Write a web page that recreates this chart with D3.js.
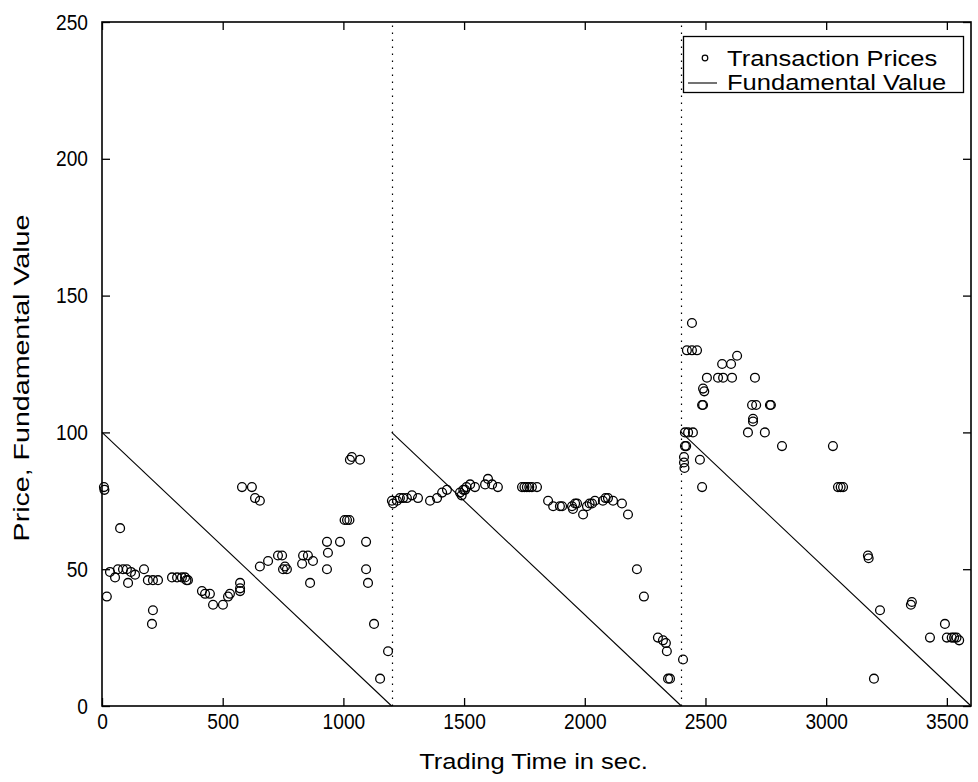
<!DOCTYPE html>
<html>
<head>
<meta charset="utf-8">
<script src="https://cdn.jsdelivr.net/npm/d3@7"></script>
<style>
  html, body { margin: 0; padding: 0; background: #ffffff; }
  svg { display: block; }
  text { font-family: "Liberation Sans", Arial, sans-serif; fill: #000; }
</style>
</head>
<body>
<svg id="chart" width="978" height="782"></svg>
<script>
// ---- data ----
const xTicks = [0, 500, 1000, 1500, 2000, 2500, 3000, 3500];
const yTicks = [0, 50, 100, 150, 200, 250];
const xLabel = "Trading Time in sec.";
const yLabel = "Price, Fundamental Value";
const legendLabels = ["Transaction Prices", "Fundamental Value"];

// period boundaries (seconds)
const periodStarts = [0, 1200, 2400];
const periodEnds = [1200, 2400, 3600];
const fvStart = 100;
const fvEnd = 0;

// transaction times (s) and prices
const tradeTimes = [
  8, 10, 20, 33, 54, 66, 75, 87, 103, 108, 120, 137, 174, 190, 207, 211, 211, 232,
  290, 311, 331, 344, 350, 356, 414, 427, 447, 460, 501, 522, 530, 572, 572, 572,
  580, 621, 634, 654, 654, 688, 729, 746, 750, 758, 766, 829, 833, 853, 862, 874,
  932, 936, 932, 986, 1005, 1015, 1025, 1027, 1035, 1069, 1094, 1094, 1102, 1127, 1152, 1185,
  1201, 1206, 1222, 1234, 1247, 1263, 1284, 1309, 1359, 1388, 1409, 1429, 1483, 1490, 1497,
  1504, 1510, 1525, 1545, 1587, 1599, 1616, 1640, 1740, 1750, 1760, 1770, 1781, 1802,
  1848, 1869, 1897, 1906, 1947, 1951, 1960, 1968, 1993, 2009, 2020, 2030, 2042, 2075,
  2086, 2096, 2117, 2154, 2179, 2216, 2245, 2303, 2324, 2336, 2340, 2345, 2353, 2407,
  2411, 2411, 2413, 2415, 2420, 2415, 2428, 2448, 2423, 2444, 2465, 2444, 2477, 2486,
  2486, 2490, 2490, 2495, 2506, 2552, 2569, 2573, 2606, 2610, 2631, 2676, 2693, 2697,
  2697, 2705, 2710, 2746, 2767, 2771, 2817, 3028, 3049, 3060, 3070, 3173, 3176, 3198,
  3223, 3351, 3355, 3430, 3492, 3500, 3520, 3530, 3540, 3551
];
const tradePrices = [
  80, 79, 40, 49, 47, 50, 65, 50, 50, 45, 49, 48, 50, 46, 30, 35, 46, 46,
  47, 47, 47, 47, 46, 46, 42, 41, 41, 37, 37, 40, 41, 45, 43, 42,
  80, 80, 76, 75, 51, 53, 55, 55, 50, 51, 50, 52, 55, 55, 45, 53,
  60, 56, 50, 60, 68, 68, 68, 90, 91, 90, 60, 50, 45, 30, 10, 20,
  75, 74, 75, 76, 76, 76, 77, 76, 75, 76, 78, 79, 78, 77, 79,
  79, 80, 81, 80, 81, 83, 81, 80, 80, 80, 80, 80, 80, 80,
  75, 73, 73, 73, 73, 72, 74, 74, 70, 73, 74, 74, 75, 75,
  76, 76, 75, 74, 70, 50, 40, 25, 24, 23, 20, 10, 10, 17,
  91, 89, 87, 95, 95, 100, 100, 100, 130, 130, 130, 140, 90, 80,
  110, 110, 116, 115, 120, 120, 125, 120, 125, 120, 128, 100, 110, 105,
  104, 120, 110, 100, 110, 110, 95, 95, 80, 80, 80, 55, 54, 10,
  35, 37, 38, 25, 30, 25, 25, 25, 25, 24
];

// ---- layout ----
const svg = d3.select("#chart");
const mLeft = 102, mRight = 971, mTop = 22, mBottom = 706;
const x = d3.scaleLinear().domain([0, 3600]).range([mLeft, mRight]);
const y = d3.scaleLinear().domain([0, 250]).range([mBottom, mTop]);
const fontSize = 22;
const tickSX = 0.87;   // tick digits are narrow
const wordSX = 1.16;   // words are wide

// vertical dotted period separators
svg.append("g").selectAll("line").data(periodStarts.slice(1)).join("line")
  .attr("x1", d => Math.round(x(d)) + 0.5).attr("x2", d => Math.round(x(d)) + 0.5)
  .attr("y1", y(0)).attr("y2", y(250))
  .attr("stroke", "#000").attr("stroke-width", 1.2)
  .attr("stroke-dasharray", "1.5,5.5");

// fundamental value lines
const line = d3.line().x(d => x(d[0])).y(d => y(d[1]));
svg.append("g").selectAll("path").data(periodStarts.map((s, i) => [[s, fvStart], [periodEnds[i], fvEnd]]))
  .join("path")
  .attr("d", line)
  .attr("fill", "none").attr("stroke", "#000").attr("stroke-width", 1.1);

// transaction prices
svg.append("g").selectAll("circle").data(tradeTimes.map((t, i) => [t, tradePrices[i]]))
  .join("circle")
  .attr("cx", d => x(d[0])).attr("cy", d => y(d[1])).attr("r", 4.4)
  .attr("fill", "none").attr("stroke", "#000").attr("stroke-width", 1.3);

// axes (MATLAB style box with inward ticks)
const tickLen = 8;
const fmt = d3.format("d");
const xAxisB = d3.axisBottom(x).tickValues(xTicks).tickSizeInner(-tickLen).tickSizeOuter(0).tickPadding(7).tickFormat(fmt);
const xAxisT = d3.axisTop(x).tickValues(xTicks).tickSizeInner(-tickLen).tickSizeOuter(0).tickFormat("");
const yAxisL = d3.axisLeft(y).tickValues(yTicks).tickSizeInner(-tickLen).tickSizeOuter(0).tickPadding(14).tickFormat(fmt);
const yAxisR = d3.axisRight(y).tickValues(yTicks).tickSizeInner(-tickLen).tickSizeOuter(0).tickFormat("");

function style(g) {
  g.select(".domain").remove();
  g.selectAll("line").attr("stroke", "#000").attr("stroke-width", 1.3);
  g.selectAll("text").attr("font-size", fontSize).attr("font-family", "Liberation Sans, Arial, sans-serif").attr("fill", "#000");
}
svg.append("g").attr("transform", `translate(0,${mBottom})`).call(xAxisB).call(style)
  .selectAll("text").attr("transform", `scale(${tickSX},1)`);
svg.append("g").attr("transform", `translate(0,${mTop})`).call(xAxisT).call(style);
svg.append("g").attr("transform", `translate(${mLeft},0)`).call(yAxisL).call(style)
  .selectAll("text").attr("x", -14 / tickSX).attr("transform", `scale(${tickSX},1)`);
svg.append("g").attr("transform", `translate(${mRight},0)`).call(yAxisR).call(style);

svg.append("rect").attr("x", mLeft).attr("y", mTop).attr("width", mRight - mLeft).attr("height", mBottom - mTop)
  .attr("fill", "none").attr("stroke", "#000").attr("stroke-width", 1.6);

// axis labels
svg.append("text").attr("transform", `translate(${(mLeft + mRight) / 2 - 3},769) scale(${wordSX},1)`)
  .attr("text-anchor", "middle").attr("font-size", fontSize).text(xLabel);
svg.append("text").attr("transform", `translate(29,${(mTop + mBottom) / 2 + 14}) rotate(-90) scale(1.3,1)`)
  .attr("text-anchor", "middle").attr("font-size", fontSize).text(yLabel);

// legend
const lg = svg.append("g");
lg.append("rect").attr("x", 683.5).attr("y", 36.5).attr("width", 280).attr("height", 56)
  .attr("fill", "#fff").attr("stroke", "#000").attr("stroke-width", 1.3);
lg.append("circle").attr("cx", 705).attr("cy", 58).attr("r", 2.8)
  .attr("fill", "none").attr("stroke", "#000").attr("stroke-width", 1.2);
lg.append("line").attr("x1", 688).attr("x2", 717).attr("y1", 83).attr("y2", 83)
  .attr("stroke", "#000").attr("stroke-width", 1.1);
lg.selectAll("text.lab").data(legendLabels).join("text").attr("class", "lab")
  .attr("transform", (d, i) => `translate(727,${66 + i * 24}) scale(${wordSX},1)`)
  .attr("font-size", fontSize).text(d => d);
</script>
</body>
</html>
